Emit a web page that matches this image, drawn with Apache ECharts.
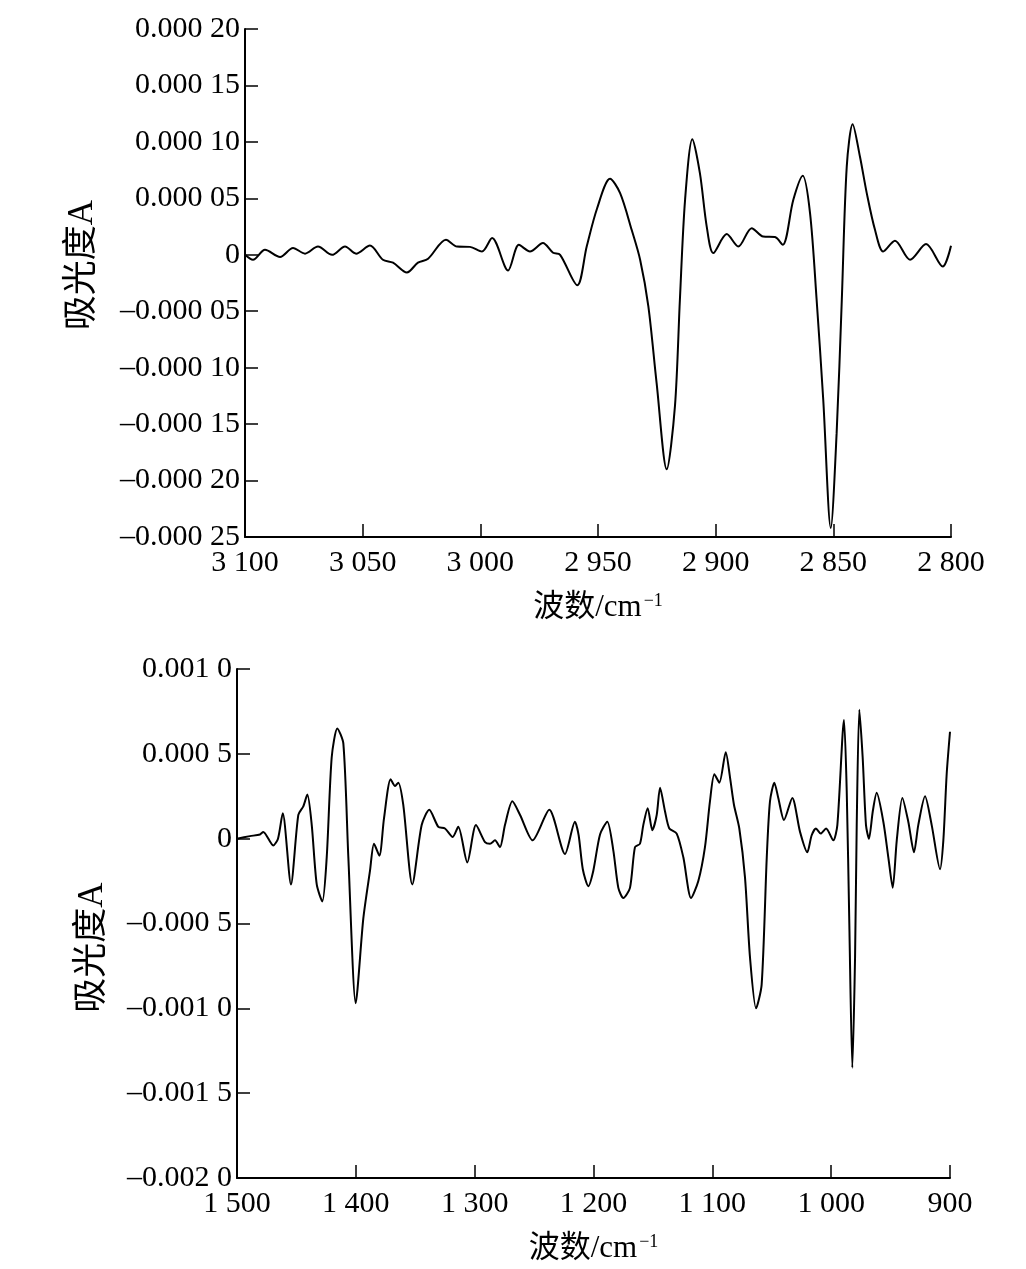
<!DOCTYPE html>
<html>
<head>
<meta charset="utf-8">
<script src="https://cdn.jsdelivr.net/npm/echarts@6/dist/echarts.min.js"></script>
<style>
html,body{margin:0;padding:0;background:#fff;}
#chart{width:1026px;height:1269px;}
</style>
</head>
<body>
<div id="chart"></div>
<script>
// ---- Top panel: C–H stretching region ----
const topWavenumber = [3100, 3096.6, 3091.5, 3085.1, 3079.6, 3074.5, 3069.0, 3063.0, 3057.5, 3052.8,
  3046.9, 3041.4, 3037.1, 3031.2, 3026.5, 3022.2, 3014.6, 3009.9, 3004.4, 2999.3,
  2995.0, 2988.2, 2983.6, 2978.9, 2973.4, 2969.1, 2966.1, 2958.8, 2954.8, 2950.4,
  2944.9, 2940.6, 2935.7, 2932.1, 2928.6, 2925.1, 2920.8, 2917.3, 2915.2, 2913.0,
  2909.9, 2906.7, 2903.8, 2901.0, 2895.3, 2890.4, 2884.7, 2879.8, 2874.8, 2871.5,
  2867.0, 2863.0, 2859.9, 2857.1, 2854.3, 2851.1, 2848.6, 2846.4, 2844.3, 2841.8,
  2838.7, 2835.8, 2832.3, 2828.8, 2823.8, 2817.4, 2810.6, 2803.5, 2800];
const topAbsorbance = [0, -4.4e-6, 4.4e-6, -2e-6, 6e-6, 1e-6, 7.3e-6, 0, 7.3e-6, 1e-6,
  8.2e-6, -4.4e-6, -7e-6, -15.7e-6, -7e-6, -3.5e-6, 13.3e-6, 7.3e-6, 7e-6, 2.9e-6,
  14.8e-6, -13.9e-6, 8.8e-6, 2.9e-6, 10.4e-6, 1.8e-6, 0, -27e-6, 7.3e-6, 41e-6,
  67.3e-6, 54.6e-6, 22.1e-6, -4.4e-6, -45.7e-6, -113.5e-6, -190e-6, -134e-6, -39.8e-6, 48.7e-6,
  102.4e-6, 72.3e-6, 25e-6, 1.5e-6, 18.3e-6, 7.3e-6, 23.6e-6, 16.2e-6, 15.7e-6, 8.8e-6,
  48.7e-6, 69.9e-6, 36.9e-6, -39.8e-6, -128e-6, -242e-6, -158e-6, -39.8e-6, 78.1e-6, 115.7e-6,
  87e-6, 54.6e-6, 22.1e-6, 2.9e-6, 12.4e-6, -4.4e-6, 9.5e-6, -10.4e-6, 8e-6];

// ---- Bottom panel: fingerprint region ----
const botWavenumber = [1500, 1489.1, 1480.6, 1477.9, 1469.5, 1465.5, 1461.5, 1454.6, 1448.4, 1444.2,
  1440.8, 1437.1, 1432.9, 1428.2, 1424.5, 1420.3, 1415.6, 1410.5, 1406.3, 1400.1,
  1393.7, 1388.1, 1384.7, 1380.2, 1376.3, 1370.7, 1367.0, 1364.3, 1360.1, 1352.5,
  1344.6, 1338.2, 1330.6, 1325.0, 1318.5, 1313.8, 1306.2, 1298.9, 1291.3, 1287.1,
  1282.9, 1278.7, 1274.5, 1268.3, 1261.8, 1251.2, 1237.2, 1224.0, 1215.6, 1212.5,
  1209.0, 1204.4, 1200.2, 1194.5, 1188.4, 1183.3, 1179.1, 1174.9, 1169.3, 1165.1,
  1160.9, 1158.1, 1154.4, 1150.5, 1146.8, 1144.0, 1139.8, 1136.2, 1130.0, 1124.4,
  1117.9, 1111.8, 1106.2, 1102.0, 1098.3, 1094.1, 1088.7, 1085.1, 1081.8, 1077.3,
  1072.5, 1068.3, 1063.2, 1058.5, 1054.2, 1051.5, 1047.8, 1044.5, 1039.7, 1032.7,
  1026.2, 1020.1, 1016.4, 1012.8, 1008.8, 1004.3, 998.2, 994.8, 989.2, 986.9,
  984.7, 982.2, 979.9, 978.5, 976.3, 973.5, 970.7, 968.2, 965.0, 961.7,
  956.1, 951.9, 948.2, 944.8, 940.1, 935.1, 930.3, 926.7, 921.0, 915.4,
  908.4, 905.6, 902.8, 900];
const botAbsorbance = [0, 1.5e-5, 2.5e-5, 4e-5, -4e-5, 0, 1.5e-4, -2.7e-4, 1.4e-4, 1.9e-4,
  2.6e-4, 0.8e-4, -2.7e-4, -3.7e-4, -1.1e-4, 4.8e-4, 6.5e-4, 5.6e-4, -1.1e-4, -9.7e-4,
  -4.7e-4, -1.9e-4, -0.3e-4, -1.0e-4, 1.2e-4, 3.5e-4, 3.1e-4, 3.3e-4, 2.0e-4, -2.7e-4,
  0.8e-4, 1.7e-4, 0.7e-4, 0.6e-4, 0.1e-4, 0.7e-4, -1.4e-4, 0.8e-4, -0.2e-4, -0.3e-4,
  -0.1e-4, -0.5e-4, 0.8e-4, 2.2e-4, 1.4e-4, -0.1e-4, 1.7e-4, -0.9e-4, 1.0e-4, 0.2e-4,
  -1.8e-4, -2.8e-4, -1.9e-4, 0.25e-4, 1.0e-4, -0.7e-4, -2.9e-4, -3.5e-4, -2.9e-4, -0.5e-4,
  -0.3e-4, 0.8e-4, 1.8e-4, 0.5e-4, 1.4e-4, 3.0e-4, 1.6e-4, 0.6e-4, 0.3e-4, -1.1e-4,
  -3.5e-4, -2.5e-4, -0.5e-4, 2.2e-4, 3.8e-4, 3.3e-4, 5.1e-4, 3.6e-4, 2.0e-4, 0.6e-4,
  -2.3e-4, -7.0e-4, -10.0e-4, -8.6e-4, -1.1e-4, 2.2e-4, 3.3e-4, 2.4e-4, 1.1e-4, 2.4e-4,
  0.4e-4, -0.8e-4, 0.2e-4, 0.6e-4, 0.3e-4, 0.6e-4, -0.1e-4, 0.8e-4, 7.0e-4, 2.8e-4,
  -5.1e-4, -13.5e-4, -7.0e-4, 0.8e-4, 7.6e-4, 4.8e-4, 0.8e-4, 0, 1.6e-4, 2.7e-4,
  1.0e-4, -1.1e-4, -2.9e-4, -0.1e-4, 2.4e-4, 1.0e-4, -0.8e-4, 0.8e-4, 2.5e-4, 0.8e-4,
  -1.8e-4, -0.1e-4, 3.8e-4, 6.3e-4];

// ---- Tick labels ----
const topYTickValues = [-0.00025, -0.0002, -0.00015, -0.0001, -0.00005, 0, 0.00005, 0.0001, 0.00015, 0.0002];
const topYTickLabels = ['\u20130.000 25', '\u20130.000 20', '\u20130.000 15', '\u20130.000 10', '\u20130.000 05', '0', '0.000 05', '0.000 10', '0.000 15', '0.000 20'];
const topXTickValues = [2800, 2850, 2900, 2950, 3000, 3050, 3100];
const topXTickLabels = ['2 800', '2 850', '2 900', '2 950', '3 000', '3 050', '3 100'];
const botYTickValues = [-0.002, -0.0015, -0.001, -0.0005, 0, 0.0005, 0.001];
const botYTickLabels = ['\u20130.002 0', '\u20130.001 5', '\u20130.001 0', '\u20130.000 5', '0', '0.000 5', '0.001 0'];
const botXTickValues = [900, 1000, 1100, 1200, 1300, 1400, 1500];
const botXTickLabels = ['900', '1 000', '1 100', '1 200', '1 300', '1 400', '1 500'];

const xName = '波数/cm{s|\u22121}';
const yName = '吸光度A';

function lookup(values, labels) {
  return function (v) {
    for (let i = 0; i < values.length; i++) {
      if (Math.abs(values[i] - v) < 1e-9 * Math.max(1, Math.abs(v))) return labels[i];
      if (Math.abs(values[i] - v) < 1e-12) return labels[i];
    }
    return '';
  };
}

const SERIF = "'Liberation Serif', 'Times New Roman', 'Noto Sans CJK SC', serif";
const axisLine = { show: true, onZero: false, lineStyle: { color: '#000', width: 2 } };
const axisTick = { show: true, inside: true, length: 13, lineStyle: { color: '#000', width: 1.5 } };
const labelStyle = { color: '#000', fontFamily: SERIF, fontSize: 30 };
const nameStyleX = {
  color: '#000', fontFamily: SERIF, fontSize: 31,
  rich: { s: { fontSize: 18, fontFamily: SERIF, color: '#000', padding: [0, 0, 14, 2] } }
};

const chart = echarts.init(document.getElementById('chart'), null, { renderer: 'canvas' });
chart.setOption({
  backgroundColor: '#fff',
  animation: false,
  grid: [
    { left: 245, right: 75, top: 29, height: 508 },
    { left: 237, right: 76, top: 669, height: 509 }
  ],
  xAxis: [
    {
      gridIndex: 0, type: 'value', inverse: true, min: 2800, max: 3100, interval: 50,
      axisLine, axisTick, splitLine: { show: false },
      axisLabel: Object.assign({ margin: 11, formatter: lookup(topXTickValues, topXTickLabels) }, labelStyle),
      name: xName, nameLocation: 'middle', nameGap: 55, nameTextStyle: nameStyleX
    },
    {
      gridIndex: 1, type: 'value', inverse: true, min: 900, max: 1500, interval: 100,
      axisLine, axisTick, splitLine: { show: false },
      axisLabel: Object.assign({ margin: 11, formatter: lookup(botXTickValues, botXTickLabels) }, labelStyle),
      name: xName, nameLocation: 'middle', nameGap: 55, nameTextStyle: nameStyleX
    }
  ],
  yAxis: [
    {
      gridIndex: 0, type: 'value', min: -0.00025, max: 0.0002, interval: 0.00005,
      axisLine, axisTick, splitLine: { show: false },
      axisLabel: Object.assign({ margin: 5, formatter: lookup(topYTickValues, topYTickLabels) }, labelStyle),
      name: yName, nameLocation: 'middle', nameGap: 145,
      nameTextStyle: { color: '#000', fontFamily: SERIF, fontSize: 35, padding: [0, 0, 0, 36] }
    },
    {
      gridIndex: 1, type: 'value', min: -0.002, max: 0.001, interval: 0.0005,
      axisLine, axisTick, splitLine: { show: false },
      axisLabel: Object.assign({ margin: 5, formatter: lookup(botYTickValues, botYTickLabels) }, labelStyle),
      name: yName, nameLocation: 'middle', nameGap: 127,
      nameTextStyle: { color: '#000', fontFamily: SERIF, fontSize: 35, padding: [0, 48, 0, 0] }
    }
  ],
  series: [
    {
      type: 'line', xAxisIndex: 0, yAxisIndex: 0, showSymbol: false, smooth: 0.3,
      lineStyle: { color: '#000', width: 2 },
      data: topWavenumber.map((w, i) => [w, topAbsorbance[i]])
    },
    {
      type: 'line', xAxisIndex: 1, yAxisIndex: 1, showSymbol: false, smooth: 0.25,
      lineStyle: { color: '#000', width: 2 },
      data: botWavenumber.map((w, i) => [w, botAbsorbance[i]])
    }
  ]
});
</script>
</body>
</html>
